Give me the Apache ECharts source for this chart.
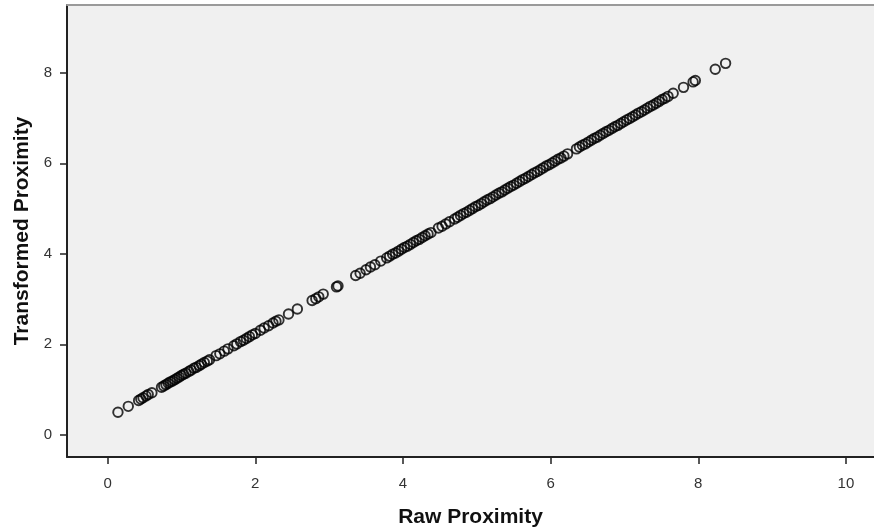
<!DOCTYPE html>
<html>
<head>
<meta charset="utf-8">
<script src="https://cdn.jsdelivr.net/npm/echarts@6/dist/echarts.min.js"></script>
<style>
html,body{margin:0;padding:0;background:#fff;}
#chart{width:874px;height:531px;}
</style>
</head>
<body>
<div id="chart"></div>
<script>
var rawProximity = [
0.14,0.28,0.42,0.45,0.48,0.52,0.55,0.60,
0.73,0.76,0.79,0.82,0.85,0.88,0.91,0.94,0.97,1.00,1.03,1.06,1.10,1.13,1.17,1.20,1.24,1.27,1.31,1.35,1.38,
1.47,1.52,1.58,1.63,
1.71,1.75,1.80,1.84,1.88,1.92,1.96,2.00,
2.07,2.12,2.18,2.24,2.28,2.32,
2.45,2.57,
2.77,2.82,2.86,2.92,
3.10,3.12,
3.36,3.42,3.50,3.56,3.62,3.70,
3.78,3.82,3.86,3.90,3.94,3.98,4.02,4.06,4.10,4.14,4.18,4.22,4.26,4.30,4.34,4.38,
4.48,4.53,4.58,4.63,
4.70,4.74,4.78,4.82,4.86,4.90,4.94,4.98,5.02,5.06,5.10,5.14,5.18,5.22,5.26,5.30,5.34,5.38,5.42,5.46,5.50,
5.54,5.58,5.62,5.66,5.70,5.74,5.78,5.82,5.86,5.90,5.94,5.98,6.02,6.06,6.10,6.14,6.18,6.23,
6.35,6.39,6.43,6.47,6.51,6.55,6.59,6.63,6.67,6.71,6.75,6.79,6.83,6.87,6.91,6.95,6.99,7.03,7.07,7.11,7.15,
7.19,7.23,7.27,7.31,7.35,7.39,7.43,7.47,7.51,7.55,7.59,
7.66,7.80,7.93,7.96,
8.23,8.37
];
var transformedProximity = [
0.50,0.63,0.76,0.79,0.82,0.86,0.89,0.93,
1.05,1.08,1.11,1.14,1.17,1.19,1.22,1.25,1.28,1.31,1.34,1.36,1.40,1.43,1.47,1.49,1.53,1.56,1.60,1.63,1.66,
1.75,1.79,1.85,1.90,
1.97,2.01,2.06,2.09,2.13,2.17,2.21,2.24,
2.31,2.36,2.41,2.47,2.51,2.54,
2.67,2.78,
2.97,3.01,3.05,3.11,
3.27,3.29,
3.52,3.57,3.65,3.71,3.76,3.84,
3.91,3.95,3.99,4.02,4.06,4.10,4.14,4.17,4.21,4.25,4.29,4.32,4.36,4.40,4.44,4.47,
4.57,4.61,4.66,4.71,
4.77,4.81,4.85,4.89,4.92,4.96,5.00,5.04,5.07,5.11,5.15,5.19,5.22,5.26,5.30,5.34,5.37,5.41,5.45,5.49,5.52,
5.56,5.60,5.64,5.67,5.71,5.75,5.79,5.82,5.86,5.90,5.94,5.97,6.01,6.05,6.09,6.12,6.16,6.21,
6.32,6.36,6.40,6.43,6.47,6.51,6.55,6.58,6.62,6.66,6.70,6.73,6.77,6.81,6.84,6.88,6.92,6.96,6.99,7.03,7.07,
7.11,7.14,7.18,7.22,7.26,7.29,7.33,7.37,7.41,7.44,7.48,
7.55,7.68,7.80,7.83,
8.08,8.21
];
var xTicks = [0,2,4,6,8,10];
var yTicks = [0,2,4,6,8];
var xTitle = 'Raw Proximity';
var yTitle = 'Transformed Proximity';

var points = rawProximity.map(function(v,i){return [v, transformedProximity[i]];});
var font = "'Liberation Sans', Arial, sans-serif";

var chart = echarts.init(document.getElementById('chart'), null, {renderer:'canvas'});
chart.setOption({
  animation:false,
  backgroundColor:'#ffffff',
  grid:{left:67,top:5,right:0,bottom:74,outerBoundsMode:'none',containLabel:false,show:true,backgroundColor:'#f0f0f0',borderWidth:0},
  xAxis:[{
    type:'value', min:-0.55, max:10.38, position:'bottom',
    name:xTitle, nameLocation:'middle', nameGap:50,
    nameTextStyle:{fontFamily:font,fontSize:21,fontWeight:'bold',color:'#111'},
    axisLine:{show:true,onZero:false,lineStyle:{color:'#222',width:2}},
    axisTick:{show:true,customValues:xTicks,length:7,lineStyle:{color:'#222',width:1.5}},
    axisLabel:{customValues:xTicks,margin:19,fontFamily:font,fontSize:15,color:'#333'},
    splitLine:{show:false}
  },{
    type:'value', min:-0.55, max:10.38, position:'top',
    axisLine:{show:true,onZero:false,lineStyle:{color:'#9a9a9a',width:2}},
    axisTick:{show:false}, axisLabel:{show:false}, splitLine:{show:false}
  }],
  yAxis:{
    type:'value', min:-0.49, max:9.5,
    name:yTitle, nameLocation:'middle', nameGap:34,
    nameTextStyle:{fontFamily:font,fontSize:21,fontWeight:'bold',color:'#111'},
    axisLine:{show:true,onZero:false,lineStyle:{color:'#222',width:2}},
    axisTick:{show:true,customValues:yTicks,length:7,lineStyle:{color:'#222',width:1.5}},
    axisLabel:{customValues:yTicks,margin:15,fontFamily:font,fontSize:15,color:'#333'},
    splitLine:{show:false}
  },
  series:[{
    type:'scatter',
    xAxisIndex:0,
    data:points,
    symbol:'circle',
    symbolSize:9.5,
    itemStyle:{color:'rgba(0,0,0,0)',borderColor:'#000',borderWidth:1.9},
    emphasis:{disabled:true}
  }]
});
</script>
</body>
</html>
